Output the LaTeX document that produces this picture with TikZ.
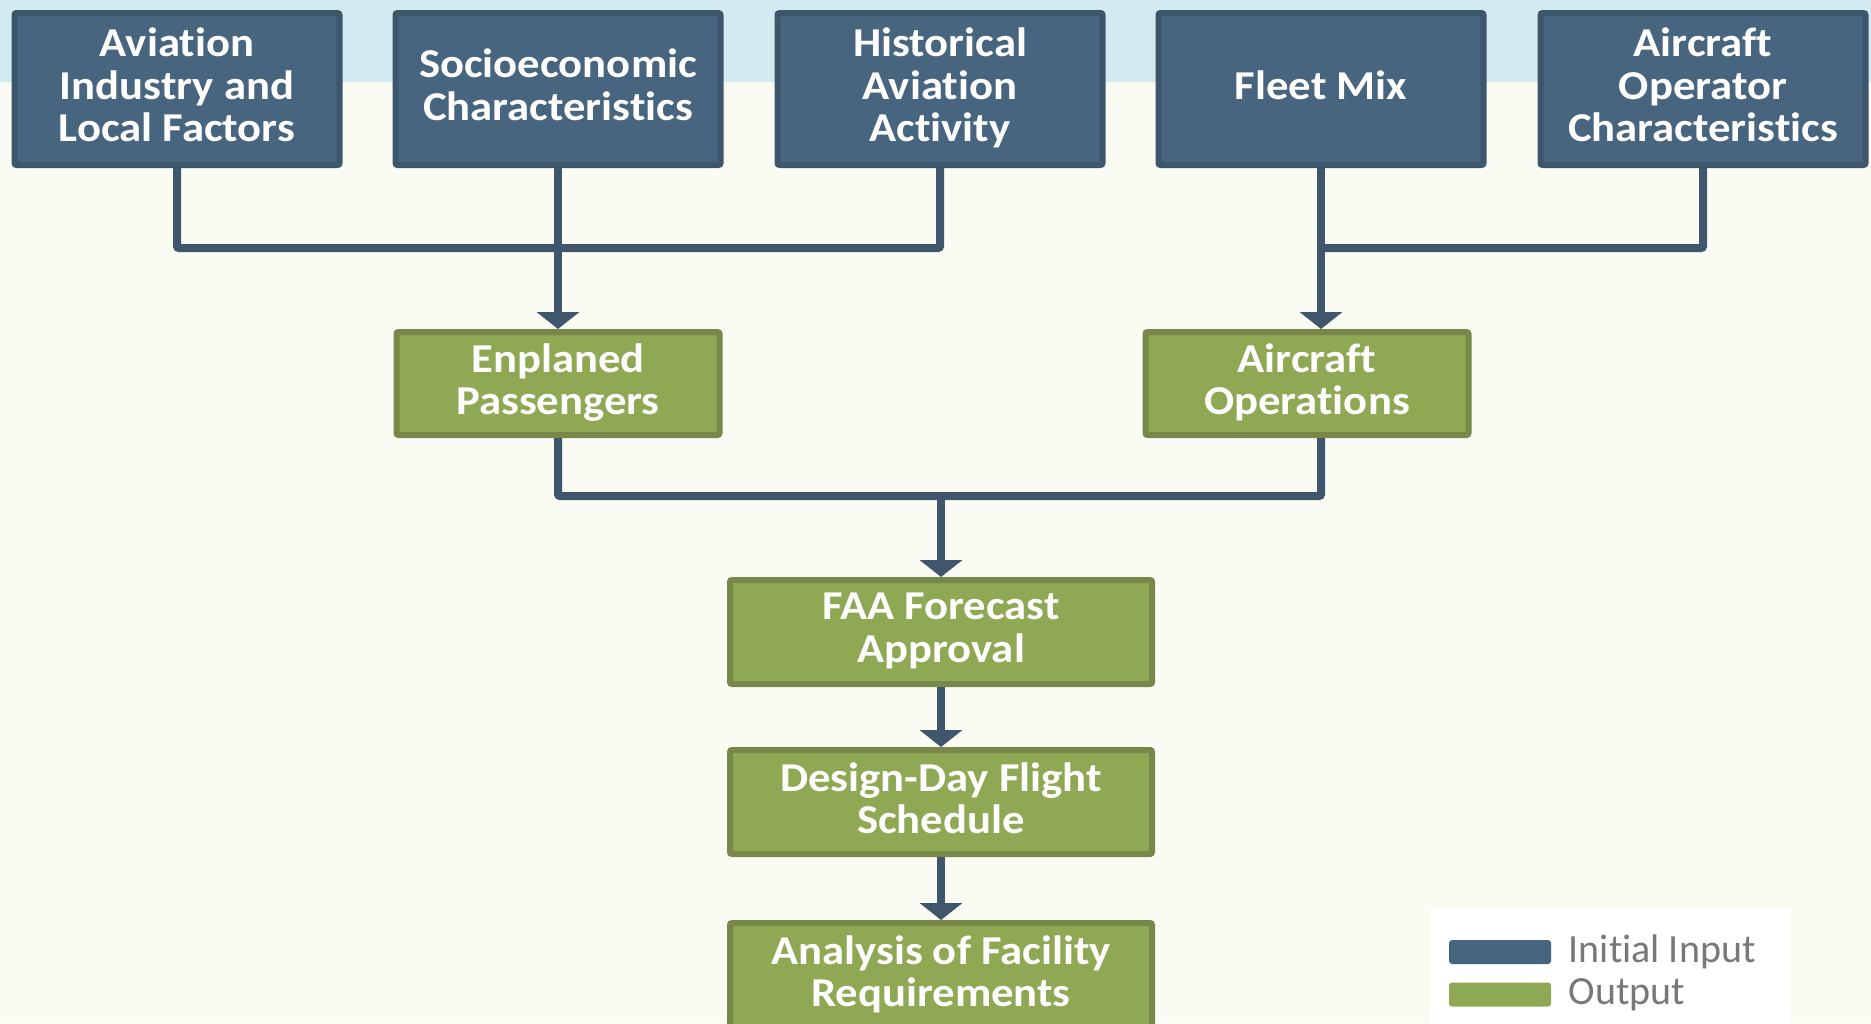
\documentclass[tikz,border=0pt]{standalone}
\usepackage{fontspec}
\setmainfont{Carlito}[Ligatures=NoCommon]
\newfontfamily\boxfont{Carlito}[FakeStretch=1.09,Ligatures=NoCommon]
\usetikzlibrary{arrows.meta,calc,positioning}
\definecolor{inblue}{HTML}{47657F}
\definecolor{inblueline}{HTML}{3E566C}
\definecolor{outgreen}{HTML}{8EA853}
\definecolor{outgreenline}{HTML}{78884A}
\definecolor{linkblue}{HTML}{3F566D}
\definecolor{bgcream}{HTML}{FAFBF3}
\definecolor{bandblue}{HTML}{D3EBF0}
\definecolor{keygray}{HTML}{77787C}
\tikzset{
inbox/.style={
  rectangle,
  rounded corners=1pt,
  line width=3pt,
  draw=inblueline,
  fill=inblue,
  text=white,
  inner sep=0pt,
  align=center,
  text depth=4.2pt,
  minimum width=162.5pt,
  minimum height=76pt,
  font=\boxfont\bfseries\fontsize{20.5}{21.2}\selectfont,
  }
}
\tikzset{
outbox/.style={
  inbox,
  draw=outgreenline,
  fill=outgreen,
  minimum width=161.5pt,
  minimum height=51.5pt,
  }
}
\tikzset{
myline/.style={
  line width=4pt,
  draw=linkblue,
  rounded corners=1pt,
  }
}
\tikzset{
myarrow/.style={
  myline,
  -{Triangle[width=21pt,length=8.5pt]}
  }
}
\tikzset{
keybar/.style={
  rectangle,
  rounded corners=1.5pt,
  inner sep=0pt,
  minimum width=51pt,
  minimum height=12pt,
  }
}
\tikzset{
keytext/.style={
  inner sep=0pt,
  text=keygray,
  font=\fontsize{20}{24}\selectfont,
  }
}

\begin{document}
\begin{tikzpicture}[x=0.5pt,y=-0.5pt]
    \clip (0,0) rectangle (1871,1023);
    \fill[bgcream] (0,0) rectangle (1871,1023);
    \fill[bandblue] (0,0) rectangle (1871,82);

    % input part
    \node[inbox] (ind) at (177,89) {Aviation\\Industry and\\Local Factors};
    \node[inbox] (socio) at (558,89) {Socioeconomic\\Characteristics};
    \node[inbox] (hist) at (940,89) {Historical\\Aviation\\Activity};
    \node[inbox] (fleet) at (1321,89) {Fleet Mix};
    \node[inbox] (oper) at (1703,89) {Aircraft\\Operator\\Characteristics};

    % output part
    \node[outbox] (pax) at (558,383.5) {Enplaned\\Passengers};
    \node[outbox] (ops) at (1307,383.5) {Aircraft\\Operations};
    \node[outbox, minimum width=211pt, minimum height=52pt] (faa) at (941,632) {FAA Forecast\\Approval};
    \node[outbox, minimum width=211pt, minimum height=52pt] (design) at (941,802) {Design-Day Flight\\Schedule};
    \node[outbox, minimum width=211pt, minimum height=52pt] (analysis) at (941,975) {Analysis of Facility\\Requirements};

    % junctions
    \coordinate (lbar) at (558,248);
    \coordinate (rbar) at (1321,248);
    \coordinate (mbar) at (941,496);

    % input edges
    \draw[myline] (ind.south) |- (lbar) -| (hist.south);
    \draw[myarrow] (socio.south) -- (pax.north);
    \draw[myline] (oper.south) |- (rbar);
    \draw[myarrow] (fleet.south) -- (fleet.south |- ops.north);

    % output edges
    \draw[myline] (pax.south) |- (mbar) -| (fleet.south |- ops.south);
    \draw[myarrow] (mbar) -- (faa.north);
    \draw[myarrow] (faa) -- (design);
    \draw[myarrow] (design) -- (analysis);

    % legend
    \fill[white] (1430,908) rectangle (1790,1023);
    \node[keybar, fill=inblue] (keyin) at (1500,952) {};
    \node[keybar, fill=outgreen] (keyout) at (1500,994.5) {};
    \node[keytext, right=8.5pt of keyin] (keyintext) {Initial Input};
    \node[keytext, right=8.5pt of keyout] (keyouttext) {Output};
\end{tikzpicture}
\end{document}
